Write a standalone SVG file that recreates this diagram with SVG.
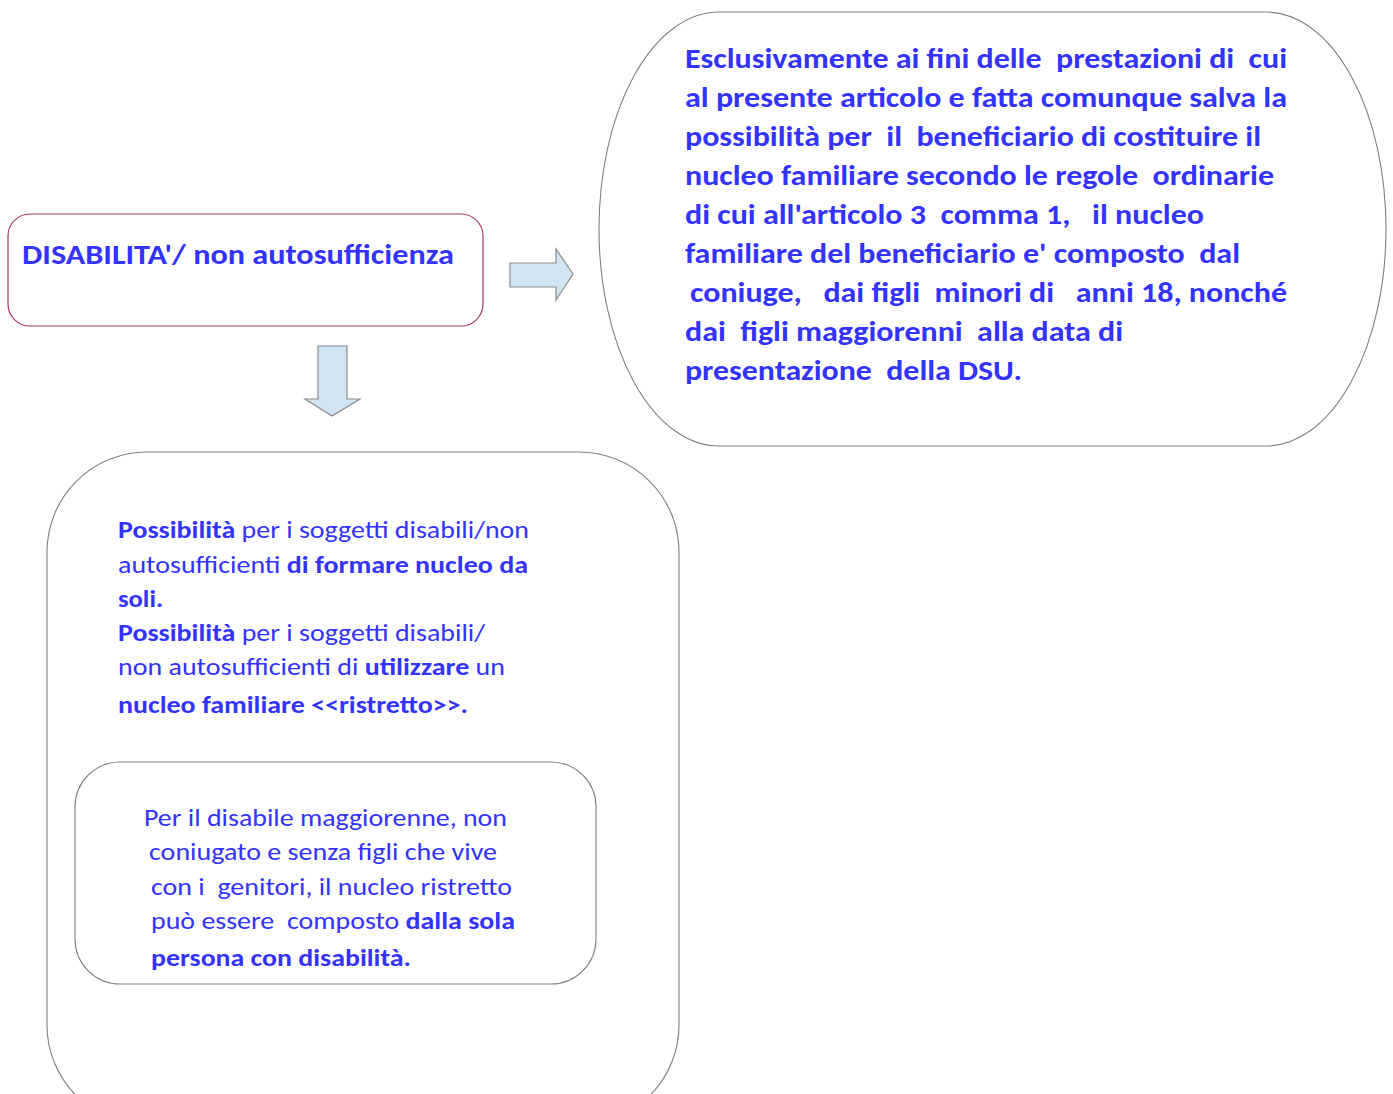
<svg xmlns="http://www.w3.org/2000/svg" width="1393" height="1094" viewBox="0 0 1393 1094">
<defs>
<style>
.t{font-family:Carlito,"Open Sans","Liberation Sans",sans-serif;fill:#3333ff;}
.b{font-weight:bold;}
.n{font-weight:normal;}
.s{fill:#fff;stroke:#808080;stroke-width:1.1;}
.arr{fill:#d0e4f2;stroke:#8c8c8c;stroke-width:1.2;}
</style>
</defs>
<rect width="1393" height="1094" fill="#fff"/>
<g id="connectors">
<polygon class="arr" points="510,263 556,263 556,249 573,274 556,300 556,287 510,287"/>
<polygon class="arr" points="318,346 347,346 347,399 360,399 332,416 305,399 318,399"/>
</g>
<g id="node-disabilita">
<rect x="8" y="214" width="475" height="112" rx="22" ry="22" fill="#fff" stroke="#a3386e" stroke-width="1.2"/>
<text class="t b" x="22" y="264" font-size="27.5" textLength="432" lengthAdjust="spacingAndGlyphs">DISABILITA'/ non autosufficienza</text>
</g>
<g id="node-esclusivamente">
<path class="s" d="M719,12 L1266,12 A120,217 0 0 1 1266,446 L719,446 A120,217 0 0 1 719,12 Z"/>
<g class="t b" font-size="28">
<text xml:space="preserve" x="685" y="68" textLength="602" lengthAdjust="spacingAndGlyphs">Esclusivamente ai fini delle  prestazioni di  cui</text>
<text xml:space="preserve" x="685" y="107" textLength="602" lengthAdjust="spacingAndGlyphs">al presente articolo e fatta comunque salva la</text>
<text xml:space="preserve" x="685" y="146" textLength="576" lengthAdjust="spacingAndGlyphs">possibilità per  il  beneficiario di costituire il</text>
<text xml:space="preserve" x="685" y="185" textLength="589" lengthAdjust="spacingAndGlyphs">nucleo familiare secondo le regole  ordinarie</text>
<text xml:space="preserve" x="685" y="224" textLength="519" lengthAdjust="spacingAndGlyphs">di cui all'articolo 3  comma 1,   il nucleo</text>
<text xml:space="preserve" x="685" y="263" textLength="555" lengthAdjust="spacingAndGlyphs">familiare del beneficiario e' composto  dal</text>
<text xml:space="preserve" x="690" y="302" textLength="597" lengthAdjust="spacingAndGlyphs">coniuge,   dai figli  minori di   anni 18, nonché</text>
<text xml:space="preserve" x="685" y="341" textLength="438" lengthAdjust="spacingAndGlyphs">dai  figli maggiorenni  alla data di</text>
<text xml:space="preserve" x="685" y="380" textLength="337" lengthAdjust="spacingAndGlyphs">presentazione  della DSU.</text>
</g>
</g>
<g id="node-possibilita">
<path class="s" d="M147,452 L579,452 A100,100 0 0 1 679,552 L679,1025 A100,100 0 0 1 579,1125 L147,1125 A100,100 0 0 1 47,1025 L47,552 A100,100 0 0 1 147,452 Z"/>
<g class="t" font-size="24">
<text xml:space="preserve" x="118" y="538" textLength="411" lengthAdjust="spacingAndGlyphs"><tspan class="b">Possibilità</tspan> per i soggetti disabili/non</text>
<text xml:space="preserve" x="118" y="573" textLength="410" lengthAdjust="spacingAndGlyphs">autosufficienti <tspan class="b">di formare nucleo da</tspan></text>
<text xml:space="preserve" class="b" x="118" y="607" textLength="45" lengthAdjust="spacingAndGlyphs">soli.</text>
<text xml:space="preserve" x="118" y="641" textLength="367" lengthAdjust="spacingAndGlyphs"><tspan class="b">Possibilità</tspan> per i soggetti disabili/</text>
<text xml:space="preserve" x="118" y="675" textLength="387" lengthAdjust="spacingAndGlyphs">non autosufficienti di <tspan class="b">utilizzare</tspan> un</text>
<text xml:space="preserve" class="b" x="118" y="713" textLength="350" lengthAdjust="spacingAndGlyphs">nucleo familiare &lt;&lt;ristretto&gt;&gt;.</text>
</g>
</g>
<g id="node-disabile-maggiorenne">
<rect class="s" x="75" y="762" width="521" height="222" rx="45" ry="45"/>
<g class="t" font-size="24">
<text xml:space="preserve" x="144" y="826" textLength="363" lengthAdjust="spacingAndGlyphs">Per il disabile maggiorenne, non</text>
<text xml:space="preserve" x="149" y="860" textLength="348" lengthAdjust="spacingAndGlyphs">coniugato e senza figli che vive</text>
<text xml:space="preserve" x="151" y="895" textLength="361" lengthAdjust="spacingAndGlyphs">con i  genitori, il nucleo ristretto</text>
<text xml:space="preserve" x="151" y="929" textLength="364" lengthAdjust="spacingAndGlyphs">può essere  composto <tspan class="b">dalla sola</tspan></text>
<text xml:space="preserve" class="b" x="151" y="966" textLength="260" lengthAdjust="spacingAndGlyphs">persona con disabilità.</text>
</g>
</g>
</svg>
